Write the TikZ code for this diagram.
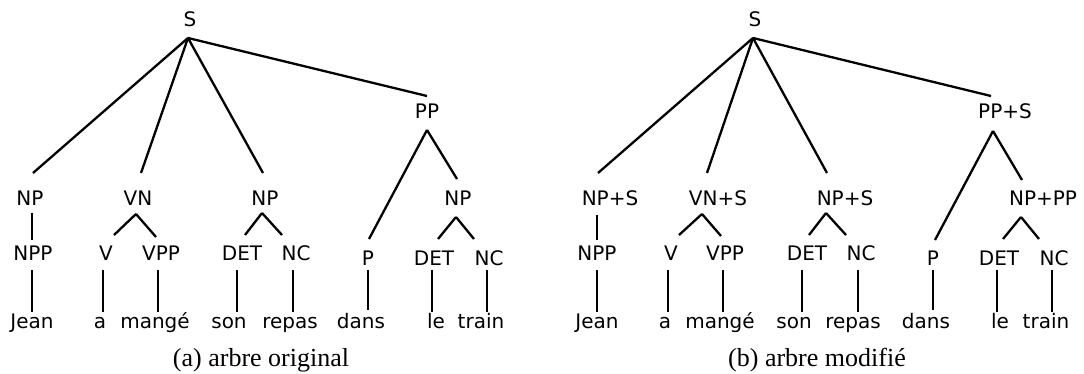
\documentclass[tikz,border=0pt]{standalone}
\usepackage{fontspec}
\newfontfamily\lblfont{DejaVu Sans}
\newfontfamily\capfont{Liberation Serif}
\tikzset{
  lbl/.style={font=\fontsize{20}{20}\selectfont\lblfont, inner sep=0pt, anchor=base},
  capt/.style={font=\fontsize{26}{26}\selectfont\capfont, inner sep=0pt, anchor=base},
  conn/.style={line width=2.3pt, black},
}
\newcommand\linkE[4]{\draw[conn] ([shift={(#2)}]#1.base) -- ([shift={(#4)}]#3.base);}
\begin{document}
\begin{tikzpicture}[x=1pt,y=-1pt]
\useasboundingbox[fill=white] (0,0) rectangle (1084,374);
% ---------------- left tree
\node[lbl] (S1) at (190,27) {S};
\node[lbl] (NPa) at (30,206) {NP};
\node[lbl] (VNa) at (138,206) {VN};
\node[lbl] (NPb) at (265,206) {NP};
\node[lbl] (PPa) at (427,119) {PP};
\node[lbl] (NPPa) at (33,260) {NPP};
\node[lbl] (Va) at (106,260) {V};
\node[lbl] (VPPa) at (161,260) {VPP};
\node[lbl] (DETa) at (242,260) {DET};
\node[lbl] (NCa) at (296,260) {NC};
\node[lbl] (Pa) at (368,265) {P};
\node[lbl] (NPc) at (458,206) {NP};
\node[lbl] (DETb) at (434,265) {DET};
\node[lbl] (NCb) at (489,265) {NC};
\node[lbl] (Jean) at (32,328) {Jean};
\node[lbl] (aa) at (100,328) {a};
\node[lbl] (mange) at (155,328) {mangé};
\node[lbl] (son) at (229,328) {son};
\node[lbl] (repas) at (290,328) {repas};
\node[lbl] (dans) at (361,328) {dans};
\node[lbl] (le) at (436,328) {le};
\node[lbl] (train) at (481,328) {train};
\node[capt] (capa) at (261,366) {(a) arbre original};
\linkE{S1}{-2,11}{NPa}{3,-33}
\linkE{S1}{-2,11}{VNa}{3,-33}
\linkE{S1}{-2,11}{NPb}{-2,-33}
\linkE{S1}{-2,11}{PPa}{0,-23}
\linkE{NPa}{2,7}{NPPa}{-1,-20}
\linkE{NPPa}{-1,10}{Jean}{0,-16}
\linkE{VNa}{-2,8}{Va}{8,-25}
\linkE{VNa}{-2,8}{VPPa}{-5,-23}
\linkE{Va}{-3,10}{aa}{3,-16}
\linkE{VPPa}{-3,10}{mange}{3,-16}
\linkE{NPb}{-3,7}{DETa}{3,-25}
\linkE{NPb}{-3,7}{NCa}{-14,-25}
\linkE{DETa}{-5,10}{son}{8,-16}
\linkE{NCa}{-3,10}{repas}{3,-16}
\linkE{PPa}{0,11}{Pa}{1,-26}
\linkE{PPa}{0,11}{NPc}{-1,-27}
\linkE{Pa}{0,5}{dans}{7,-18}
\linkE{NPc}{-2,11}{DETb}{4,-26}
\linkE{NPc}{-2,11}{NCb}{-15,-26}
\linkE{DETb}{-2,5}{le}{-4,-16}
\linkE{NCb}{-2,5}{train}{6,-16}
% ---------------- right tree
\node[lbl] (S2) at (755,27) {S};
\node[lbl] (NPd) at (610,206) {NP+S};
\node[lbl] (VNb) at (718,206) {VN+S};
\node[lbl] (NPe) at (845,206) {NP+S};
\node[lbl] (PPb) at (1005,119) {PP+S};
\node[lbl] (NPPb) at (597,260) {NPP};
\node[lbl] (Vb) at (671,260) {V};
\node[lbl] (VPPb) at (725,260) {VPP};
\node[lbl] (DETc) at (807,260) {DET};
\node[lbl] (NCc) at (861,260) {NC};
\node[lbl] (Pb) at (933,265) {P};
\node[lbl] (NPf) at (1043,206) {NP+PP};
\node[lbl] (DETd) at (999,265) {DET};
\node[lbl] (NCd) at (1054,265) {NC};
\node[lbl] (Jean2) at (597,328) {Jean};
\node[lbl] (aa2) at (665,328) {a};
\node[lbl] (mange2) at (720,328) {mangé};
\node[lbl] (son2) at (794,328) {son};
\node[lbl] (repas2) at (853,328) {repas};
\node[lbl] (dans2) at (926,328) {dans};
\node[lbl] (le2) at (1000,328) {le};
\node[lbl] (train2) at (1046,328) {train};
\node[capt] (capb) at (817,366) {(b) arbre modifié};
\linkE{S2}{-2,11}{NPd}{-12,-33}
\linkE{S2}{-2,11}{VNb}{-11,-33}
\linkE{S2}{-2,11}{NPe}{-18,-33}
\linkE{S2}{-2,11}{PPb}{-14,-23}
\linkE{NPd}{-13,9}{NPPb}{0,-20}
\linkE{NPPb}{0,10}{Jean2}{0,-16}
\linkE{VNb}{-16,8}{Vb}{8,-25}
\linkE{VNb}{-16,8}{VPPb}{-4,-24}
\linkE{Vb}{-3,10}{aa2}{3,-16}
\linkE{VPPb}{-2,10}{mange2}{3,-16}
\linkE{NPe}{-19,7}{DETc}{2,-25}
\linkE{NPe}{-19,7}{NCc}{-15,-25}
\linkE{DETc}{-5,10}{son2}{8,-16}
\linkE{NCc}{-3,10}{repas2}{5,-16}
\linkE{PPb}{-12,12}{Pb}{2,-25}
\linkE{PPb}{-12,12}{NPf}{-21,-26}
\linkE{Pb}{0,5}{dans2}{7,-18}
\linkE{NPf}{-22,11}{DETd}{4,-26}
\linkE{NPf}{-22,11}{NCd}{-15,-26}
\linkE{DETd}{-2,5}{le2}{-3,-16}
\linkE{NCd}{-2,5}{train2}{6,-16}
\end{tikzpicture}
\end{document}
